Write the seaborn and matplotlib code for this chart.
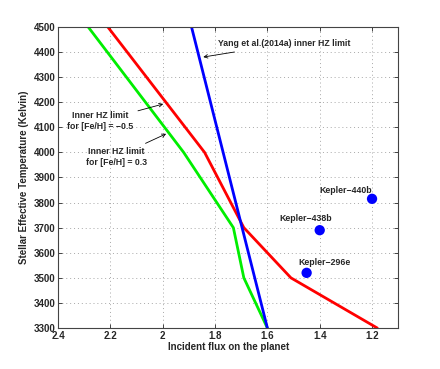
import pandas as pd
import seaborn as sns
import matplotlib.pyplot as plt

# Curvas do limite interno da HZ
flux_feh_m05 = [2.21, 1.84, 1.69, 1.51, 1.18]
temp_feh_m05 = [4500, 4000, 3700, 3500, 3300]
flux_feh_03 = [2.285, 1.92, 1.73, 1.69, 1.60]
temp_feh_03 = [4500, 4000, 3700, 3500, 3300]
flux_yang = [1.89, 1.60]
temp_yang = [4500, 3300]

# Planetas
planetas = ['Kepler\u2212440b', 'Kepler\u2212438b', 'Kepler\u2212296e']
flux_planetas = [1.20, 1.40, 1.45]
temp_planetas = [3815, 3690, 3520]
# deslocamento dos rótulos (fluxo, temperatura)
desloc_rotulos = [(0.10, 16), (0.055, 29), (-0.07, 24)]

sns.set_style('ticks')
plt.rcParams['font.family'] = ['Liberation Sans', 'DejaVu Sans']
plt.rcParams['font.weight'] = 'bold'
plt.rcParams['font.size'] = 7

fig = plt.figure(figsize=(4.4, 3.69), dpi=100)
ax = fig.add_axes([0.132, 0.111, 0.773, 0.816])

df_red = pd.DataFrame({'x': flux_feh_m05, 'y': temp_feh_m05})
df_green = pd.DataFrame({'x': flux_feh_03, 'y': temp_feh_03})
df_blue = pd.DataFrame({'x': flux_yang, 'y': temp_yang})
sns.lineplot(x='x', y='y', data=df_red, color='#ff0000', lw=2, sort=False, ax=ax)
sns.lineplot(x='x', y='y', data=df_green, color='#00ee00', lw=2, sort=False, ax=ax)
sns.lineplot(x='x', y='y', data=df_blue, color='#0000ff', lw=2, sort=False, ax=ax)

df_pl = pd.DataFrame({'x': flux_planetas, 'y': temp_planetas})
sns.scatterplot(x='x', y='y', data=df_pl, color='#0000ff', s=55, edgecolor='none', ax=ax, zorder=5)
for nome, fx, ty, (dx, dy) in zip(planetas, flux_planetas, temp_planetas, desloc_rotulos):
    ax.text(fx + dx, ty + dy, nome, fontsize=6.3, fontweight='bold', ha='center', va='bottom')

# Anotações
seta = dict(arrowstyle='->', color='black', lw=0.6, shrinkA=1, shrinkB=0)
ax.annotate('Yang et al.(2014a) inner HZ limit', xy=(1.845, 4380), xytext=(1.79, 4432),
            fontsize=6.3, fontweight='bold', ha='left', va='center', arrowprops=seta)
ax.annotate('Inner HZ limit\nfor [Fe/H] = \u22120.5', xy=(1.998, 4193), xytext=(2.239, 4125),
            fontsize=6.3, fontweight='bold', ha='center', va='center', arrowprops=seta)
ax.annotate('Inner HZ limit\nfor [Fe/H] = 0.3', xy=(1.987, 4074), xytext=(2.178, 3982),
            fontsize=6.3, fontweight='bold', ha='center', va='center', arrowprops=seta)

ax.set_xlim(2.4, 1.1)
ax.set_ylim(3300, 4500)
ax.set_xticks([2.4, 2.2, 2.0, 1.8, 1.6, 1.4, 1.2])
ax.set_xticklabels(['2.4', '2.2', '2', '1.8', '1.6', '1.4', '1.2'])
ax.set_yticks(range(3300, 4501, 100))
ax.grid(True, linestyle=(0, (1, 3)), color='#a8a8a8', lw=0.7)
ax.tick_params(direction='in', top=True, right=True, length=3, width=0.6, labelsize=7, pad=2)
for s in ax.spines.values():
    s.set_linewidth(0.8)
    s.set_color('#444444')
ax.set_xlabel('Incident flux on the planet', fontsize=7, fontweight='bold', labelpad=1)
ax.set_ylabel('Stellar Effective Temperature (Kelvin)', fontsize=7, fontweight='bold', labelpad=3)

fig.savefig('out.png', dpi=100)
